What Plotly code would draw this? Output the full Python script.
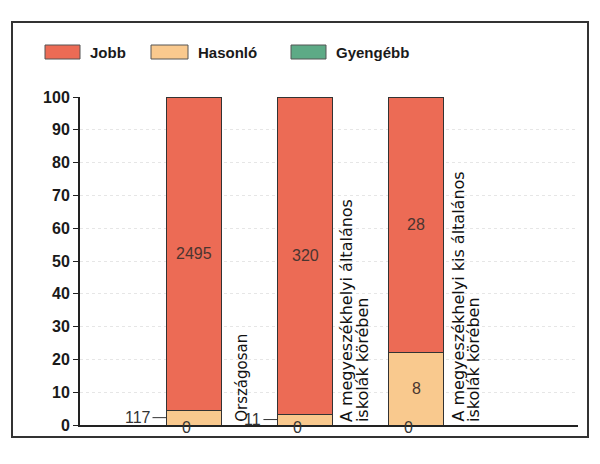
import plotly.graph_objects as go

categories = ["Országosan",
              "A megyeszékhelyi általános\niskolák körében",
              "A megyeszékhelyi kis általános\niskolák körében"]
gyengebb = [0, 0, 0]
hasonlo = [117, 11, 8]
jobb = [2495, 320, 28]

series_names = ["Gyengébb", "Hasonló", "Jobb"]
series_colors = ["#5DAA86", "#F9C98E", "#EC6B55"]

x_pos = [1, 2, 3]
counts = [gyengebb, hasonlo, jobb]
totals = [sum(v) for v in zip(*counts)]
pcts = [[c / t * 100 for c, t in zip(s, totals)] for s in counts]

# screen pixel -> paper coords (plot area: x 80..578, y 97..425)
def px(x):
    return (x - 80) / 498

def py(y):
    return (425 - y) / 328

fig = go.Figure()
for name, col, p in zip(series_names, series_colors, pcts):
    fig.add_trace(go.Bar(x=x_pos, y=p, name=name, width=0.5,
                         marker=dict(color=col, line=dict(color="#333333", width=1)),
                         hoverinfo="skip", showlegend=False))

annots = []
shapes = []

# value labels
for i, xp in enumerate(x_pos):
    base = 0
    for s in range(3):
        c = counts[s][i]
        p = pcts[s][i]
        mid = base + p / 2
        if c == 0:
            annots.append(dict(x=xp, y=base, text=str(c), showarrow=False,
                               xshift=-8, yshift=-2, yanchor="middle",
                               font=dict(size=16, color="#333333")))
        elif p < 8:
            annots.append(dict(x=xp - 0.25, y=mid, text=str(c), showarrow=True,
                               arrowhead=0, arrowwidth=1, arrowcolor="#333333",
                               ax=-14, ay=0, xanchor="right",
                               font=dict(size=16, color="#333333")))
        else:
            annots.append(dict(x=xp, y=mid, text=str(c), showarrow=False,
                               font=dict(size=16, color="#4a3530")))
        base += p

# rotated category labels to the right of each bar
for xp, lab in zip(x_pos, categories):
    lines = lab.split("\n")
    single = len(lines) == 1
    for k, line in enumerate(lines):
        annots.append(dict(x=xp + (0.33 if single else 0.27), y=0, text=line,
                           showarrow=False, textangle=-90,
                           xanchor="left", yanchor="bottom",
                           xshift=k * 16, yshift=1,
                           font=dict(size=15 if single else 16, color="#111111",
                                     family="DejaVu Sans, Arial, sans-serif")))

# custom legend with wide swatches
legend_x = [45, 151, 291]
legend_w = [35, 37, 35]
for name, col, lx, lw in zip(series_names[::-1], series_colors[::-1], legend_x, legend_w):
    shapes.append(dict(type="rect", xref="paper", yref="paper",
                       x0=px(lx), x1=px(lx + lw), y0=py(59), y1=py(45),
                       fillcolor=col, line=dict(color="#555555", width=1)))
    annots.append(dict(xref="paper", yref="paper", x=px(lx + lw + 8), y=py(52),
                       text=name, showarrow=False, xanchor="left", yanchor="middle",
                       font=dict(size=15, color="#1a1a1a", weight="bold")))

# outer frame
shapes.append(dict(type="rect", xref="paper", yref="paper",
                   x0=px(12), x1=px(588), y0=py(437), y1=py(22),
                   line=dict(color="#333333", width=2)))

fig.update_layout(
    barmode="stack",
    width=592, height=456,
    margin=dict(l=72, r=22, t=89, b=39),
    paper_bgcolor="white", plot_bgcolor="white",
    font=dict(family="Liberation Sans, Arial, sans-serif", color="#222222"),
    showlegend=False,
    annotations=annots,
    shapes=shapes,
)
fig.update_xaxes(range=[-0.03, 4.46], showticklabels=False, showgrid=False,
                 zeroline=False, showline=True, linecolor="#222222", linewidth=2,
                 ticks="")
fig.update_yaxes(range=[0, 100], dtick=10, showline=True, linecolor="#222222",
                 linewidth=2, ticks="outside", ticklen=5, tickcolor="#222222",
                 tickfont=dict(size=16, color="#1a1a1a", weight="bold"),
                 gridcolor="#e6e6e6", griddash="dot", zeroline=False)

fig.write_html("out.html")
